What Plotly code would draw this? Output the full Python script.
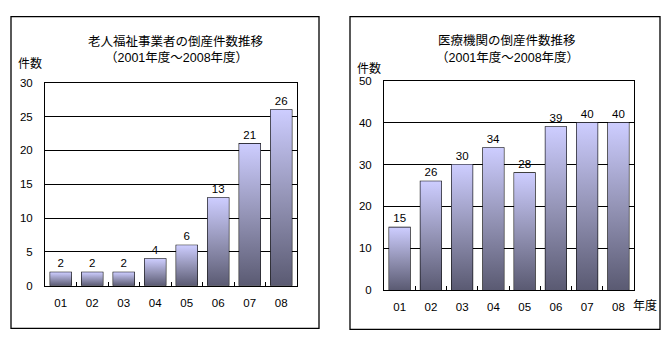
import plotly.graph_objects as go

# ---- data ----
years = ["01", "02", "03", "04", "05", "06", "07", "08"]
elderly_welfare = [2, 2, 2, 4, 6, 13, 21, 26]
medical = [15, 26, 30, 34, 28, 39, 40, 40]

title_left = ["老人福祉事業者の倒産件数推移", "（2001年度～2008年度）"]
title_right = ["医療機関の倒産件数推移", "（2001年度～2008年度）"]
y_label = "件数"
x_unit = "年度"

W, H = 672, 343
FONT = "Liberation Sans, Arial, Noto Sans CJK JP, sans-serif"
BAR_W = 0.67
GRAD = [[0, "#5A5A72"], [0.5, "#9494B6"], [1, "#CDCDFF"]]
NUM_SIZE = 11.5

def px(x):
    return x / W

def py(y):
    return 1 - y / H

fig = go.Figure()

def add_panel(values, xref, yref):
    xs = list(range(len(values)))
    for i, v in zip(xs, values):
        fig.add_trace(go.Scatter(
            x=[i - BAR_W / 2, i + BAR_W / 2, i + BAR_W / 2, i - BAR_W / 2, i - BAR_W / 2],
            y=[0, 0, v, v, 0],
            mode="lines", fill="toself",
            fillgradient=dict(type="vertical", colorscale=GRAD),
            line=dict(width=0), hoverinfo="skip", showlegend=False,
            xaxis=xref, yaxis=yref,
        ))
    fig.add_trace(go.Bar(
        x=xs, y=values, width=BAR_W,
        marker=dict(color="rgba(0,0,0,0)", line=dict(color="black", width=1.2)),
        text=[str(v) for v in values], textposition="outside",
        textfont=dict(family=FONT, size=NUM_SIZE, color="black"),
        cliponaxis=False, showlegend=False,
        xaxis=xref, yaxis=yref,
    ))

add_panel(elderly_welfare, "x", "y")
add_panel(medical, "x2", "y2")

common_x = dict(
    range=[-0.5, 7.5], tickvals=list(range(8)), ticktext=years,
    ticks="", showline=True, mirror=True, linecolor="black", linewidth=1,
    showgrid=False, zeroline=False, ticklabelstandoff=6,
    tickfont=dict(family=FONT, size=NUM_SIZE, color="black"),
    minor=dict(tickvals=[k + 0.5 for k in range(7)], ticks="inside",
               ticklen=4, tickcolor="black", tickwidth=1, showgrid=False),
)
common_y = dict(
    showline=True, mirror=True, linecolor="black", linewidth=1,
    showgrid=True, gridcolor="black", gridwidth=1, zeroline=False,
    ticks="", ticklabelstandoff=9,
    tickfont=dict(family=FONT, size=NUM_SIZE, color="black"),
)

fig.update_layout(
    width=W, height=H,
    margin=dict(l=0, r=0, t=0, b=0),
    paper_bgcolor="white", plot_bgcolor="white",
    barmode="overlay",
    xaxis=dict(domain=[px(45), px(297)], anchor="y", **common_x),
    yaxis=dict(domain=[py(290), py(79.5)], anchor="x", range=[0, 30], dtick=5, **common_y),
    xaxis2=dict(domain=[px(384), px(634)], anchor="y2", **common_x),
    yaxis2=dict(domain=[py(294.5), py(77.5)], anchor="x2", range=[0, 50], dtick=10, **common_y),
)

# outer frames
fig.add_shape(type="rect", xref="paper", yref="paper",
              x0=px(11), x1=px(319), y0=py(334), y1=py(11),
              line=dict(color="black", width=1.3))
fig.add_shape(type="rect", xref="paper", yref="paper",
              x0=px(350), x1=px(660), y0=py(335), y1=py(11),
              line=dict(color="black", width=1.3))

def ann(text, x, y, size=12.5):
    fig.add_annotation(text=text, x=px(x), y=py(y), xref="paper", yref="paper",
                       xanchor="center", yanchor="middle", showarrow=False,
                       font=dict(family=FONT, size=size, color="black"))

ann(title_left[0], 176, 37)
ann(title_left[1], 176, 53)
ann(title_right[0], 507, 36)
ann(title_right[1], 507, 53)
ann(y_label, 30, 60, 12)
ann(y_label, 369, 65, 12)
ann(x_unit, 645, 311, 12)

fig.write_html("out.html")
